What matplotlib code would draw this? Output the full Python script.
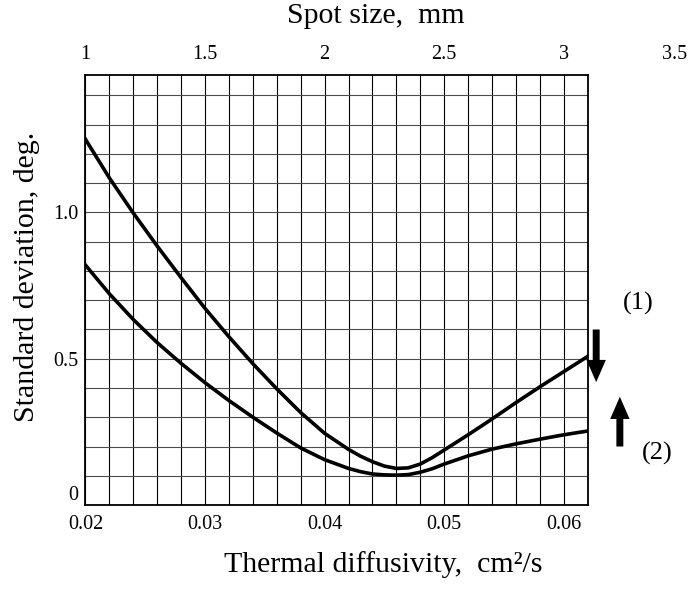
import numpy as np
import matplotlib
matplotlib.use("Agg")
import matplotlib.pyplot as plt
import matplotlib.transforms as mtransforms

plt.rcParams["font.family"] = ["Liberation Serif", "DejaVu Serif"]

# thermal diffusivity, cm2/s
diffusivity = [0.020, 0.022, 0.024, 0.026, 0.028, 0.030, 0.032, 0.034, 0.036,
               0.038, 0.040, 0.042, 0.043, 0.044, 0.045, 0.046, 0.047, 0.048,
               0.049, 0.050, 0.052, 0.054, 0.056, 0.058, 0.060, 0.062]
# curve (1)
std_dev_1 = [1.25, 1.118, 0.998, 0.885, 0.777, 0.672, 0.575, 0.483, 0.397,
             0.316, 0.245, 0.190, 0.167, 0.148, 0.133, 0.125, 0.127, 0.140,
             0.162, 0.188, 0.240, 0.294, 0.350, 0.404, 0.456, 0.508]
# curve (2)
std_dev_2 = [0.82, 0.722, 0.634, 0.555, 0.484, 0.418, 0.357, 0.300, 0.246,
             0.195, 0.155, 0.125, 0.114, 0.106, 0.103, 0.102, 0.104, 0.112,
             0.124, 0.140, 0.168, 0.191, 0.209, 0.225, 0.240, 0.253]

x_ticks = [0.02, 0.03, 0.04, 0.05, 0.06]
x_tick_labels = ["0.02", "0.03", "0.04", "0.05", "0.06"]
y_ticks = [0, 0.5, 1.0]
y_tick_labels = ["0", "0.5", "1.0"]
spot_ticks = [1, 1.5, 2, 2.5, 3, 3.5]
spot_tick_labels = ["1", "1.5", "2", "2.5", "3", "3.5"]


def spot_to_diff(s):
    return 0.02 + (s - 1) / 50.0


fig = plt.figure(figsize=(6.91, 5.89), dpi=100)
ax = fig.add_axes([0.1237, 0.1426, 0.7268, 0.7301])

ax.set_xlim(0.02, 0.062)
ax.set_ylim(0, 1.47)

ax.set_xticks(x_ticks)
ax.set_xticklabels(x_tick_labels)
ax.set_xticks(np.arange(0.02, 0.0621, 0.002), minor=True)
ax.set_yticks(y_ticks)
ax.set_yticklabels(y_tick_labels)
ax.set_yticks(np.arange(0, 1.47, 0.1), minor=True)
ax.tick_params(which="both", length=0, labelsize=14.5)
ax.tick_params(axis="x", pad=7)
ax.tick_params(axis="y", pad=5)
# the "0" sits just above the corner, as in the original
ax.get_yticklabels()[0].set_va("bottom")

ax.grid(True, which="both", axis="x", color="black", lw=0.8)
ax.grid(True, which="both", axis="y", color="0.3", lw=0.8)
ax.set_axisbelow(True)
for sp in ax.spines.values():
    sp.set_linewidth(1.3)

# curves
ax.plot(diffusivity, std_dev_1, color="black", lw=2.6)
ax.plot(diffusivity, std_dev_2, color="black", lw=2.6)

# top axis (spot size)
trans = mtransforms.blended_transform_factory(ax.transData, ax.transAxes)
for s, lab in zip(spot_ticks, spot_tick_labels):
    t = trans
    if s > 3.2:
        # label sits past the plot edge; pull it in a little
        t = trans + mtransforms.ScaledTranslation(-6 / 72, 0, fig.dpi_scale_trans)
    ax.text(spot_to_diff(s), 1.025, lab, transform=t, ha="center",
            va="bottom", fontsize=14.5, clip_on=False)

fig.text(0.544, 0.972, "Spot size,  mm", ha="center", va="center", fontsize=21.5)
fig.text(0.554, 0.041, "Thermal diffusivity,  cm²/s", ha="center", va="center",
         fontsize=21.5)
fig.text(0.039, 0.530, "Standard deviation, deg.", ha="center", va="center",
         rotation=90, fontsize=21.5)

# arrows and curve numbers
arrow_kw = dict(arrowstyle="simple,head_width=1.4,head_length=1.6,tail_width=0.5",
                fc="black", ec="none", mutation_scale=10, shrinkA=0, shrinkB=0)
ax.annotate("", xy=(0.06271, 0.42), xytext=(0.06271, 0.60),
            arrowprops=arrow_kw, annotation_clip=False)
ax.annotate("", xy=(0.06469, 0.37), xytext=(0.06469, 0.20),
            arrowprops=arrow_kw, annotation_clip=False)
ax.text(0.06625, 0.69, "(1)", ha="center", va="center", fontsize=19, clip_on=False)
ax.text(0.06782, 0.177, "(2)", ha="center", va="center", fontsize=19, clip_on=False)

fig.savefig("out.png", dpi=100)
